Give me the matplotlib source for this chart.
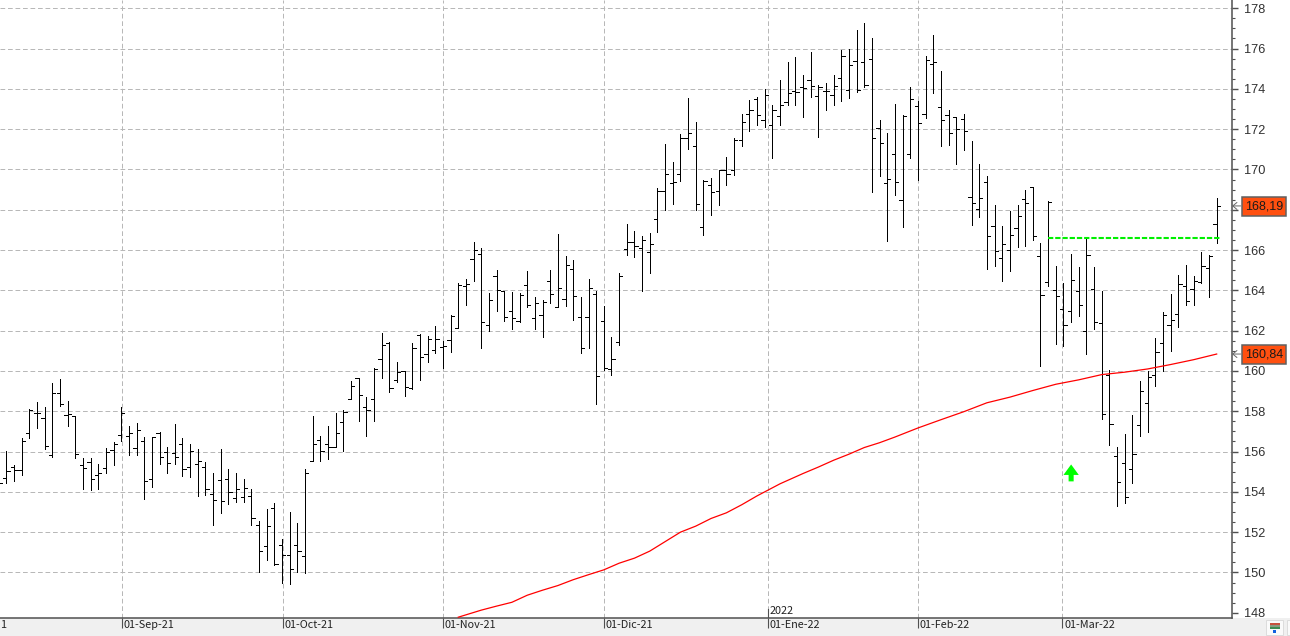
#!/usr/bin/env python
# -*- coding: utf-8 -*-
"""
plot.py - Daily OHLC bars with moving average, breakout level and price tags
"""

import numpy as np
import matplotlib
matplotlib.use("Agg")
import matplotlib.pyplot as plt
import matplotlib.patches as patches

plt.rcParams['font.family'] = ['Liberation Sans', 'DejaVu Sans']
plt.rcParams['lines.scale_dashes'] = False

# Daily bars, first one sits just off the left edge
bar_open = [154.6,
    154.69, 155.22, 155.09, 156.93, 157.92, 157.67, 155.82, 158.91, 157.82, 157.77,
    155.34, 155.49, 154.84, 155.19, 156.08, 156.83, 156.78, 156.18, 156.50, 154.64,
    156.93, 155.98, 155.93, 156.38, 155.24, 155.39, 155.24, 153.90, 154.59, 154.64,
    153.70, 153.75, 153.80, 152.36, 151.32, 153.21, 151.37, 150.88, 151.37, 150.83,
    155.54, 156.59, 156.40, 156.25, 157.49, 158.62, 159.66, 158.23, 158.62, 160.60,
    161.40, 159.56, 159.98, 159.14, 161.76, 160.85, 161.05, 161.20, 161.54, 162.14,
    164.22, 165.55, 165.80, 162.29, 164.71, 163.97, 162.98, 162.49, 164.27, 162.63,
    162.78, 164.47, 163.18, 163.57, 165.06, 162.68, 162.68, 163.82, 162.49, 160.11,
    161.45, 166.07, 166.42, 166.12, 165.92, 167.56, 168.95, 169.35, 169.79, 171.58,
    171.14, 167.16, 169.25, 168.95, 169.99, 169.99, 171.48, 172.77, 173.52, 172.47,
    172.22, 172.67, 173.36, 173.91, 174.11, 174.46, 173.66, 173.91, 173.71, 174.56,
    173.96, 175.40, 175.35, 175.50, 172.07, 169.33, 170.78, 168.49, 170.78, 173.16,
    172.77, 175.25, 173.12, 172.72, 172.62, 172.52, 168.64, 168.04, 169.38, 167.20,
    165.60, 166.00, 167.10, 168.55, 169.11, 165.71, 164.42, 164.03, 163.08, 162.98,
    163.98, 161.99, 164.08, 162.39, 159.80, 155.78, 155.43, 155.13, 157.32, 158.41,
    159.80, 161.39, 162.29, 162.83, 164.22, 164.08, 164.42, 165.12, 167.30]

bar_high = [155.0,
    156.05, 155.31, 156.68, 158.12, 158.48, 158.23, 159.42, 159.62, 158.53, 157.77,
    155.70, 155.70, 155.40, 156.20, 156.48, 158.20, 157.29, 157.44, 156.73, 156.73,
    156.99, 156.25, 157.39, 156.69, 156.40, 156.13, 155.50, 154.96, 156.15, 155.11,
    154.96, 154.66, 154.16, 152.53, 153.17, 153.47, 151.64, 153.02, 152.43, 155.14,
    157.78, 156.76, 157.25, 157.90, 158.08, 159.52, 159.66, 158.72, 160.16, 161.89,
    161.45, 160.46, 159.98, 161.40, 161.84, 161.74, 162.24, 161.50, 162.78, 164.37,
    164.56, 166.40, 166.10, 163.87, 165.01, 163.97, 163.92, 163.87, 164.96, 163.67,
    163.52, 165.01, 166.79, 165.70, 165.50, 163.67, 164.56, 163.97, 163.23, 161.69,
    164.86, 167.31, 166.96, 166.71, 166.86, 169.10, 171.28, 170.39, 171.78, 173.57,
    172.38, 169.50, 169.60, 169.99, 170.64, 171.58, 172.77, 173.47, 173.62, 174.01,
    173.18, 174.46, 175.35, 175.60, 174.71, 175.85, 174.21, 174.31, 174.71, 175.95,
    176.00, 176.91, 177.26, 176.51, 172.47, 171.82, 173.26, 172.72, 174.11, 173.41,
    175.65, 176.66, 174.91, 172.97, 172.62, 172.77, 171.42, 170.28, 169.68, 168.24,
    167.20, 167.96, 168.24, 168.96, 169.11, 166.36, 168.45, 165.22, 164.37, 165.81,
    165.17, 166.56, 165.17, 163.98, 160.05, 156.24, 156.87, 157.82, 159.50, 160.00,
    161.64, 162.93, 163.83, 164.77, 165.27, 164.72, 165.91, 165.76, 168.60]

bar_low = [154.3,
    154.43, 154.56, 154.86, 156.69, 157.19, 156.15, 155.75, 158.25, 157.29, 155.67,
    154.12, 154.07, 154.16, 154.96, 155.31, 156.50, 155.85, 155.85, 153.67, 154.26,
    155.36, 154.96, 155.36, 154.81, 154.76, 153.77, 153.82, 152.38, 152.93, 153.42,
    153.52, 153.52, 152.38, 150.03, 150.64, 150.35, 149.50, 149.45, 150.03, 149.98,
    155.54, 155.54, 155.64, 156.23, 156.03, 158.62, 157.50, 156.76, 157.50, 159.63,
    158.94, 159.43, 158.74, 159.09, 159.53, 160.42, 160.87, 160.13, 160.92, 162.14,
    163.29, 164.48, 161.12, 161.96, 163.00, 162.50, 162.06, 162.45, 163.19, 162.06,
    161.71, 163.39, 163.15, 163.24, 162.55, 160.87, 161.12, 158.34, 160.03, 159.78,
    161.31, 165.74, 165.64, 163.98, 164.84, 166.88, 168.01, 168.27, 169.41, 171.00,
    168.01, 166.73, 167.72, 168.22, 169.21, 169.71, 171.15, 171.90, 172.19, 172.09,
    170.56, 172.19, 173.18, 173.18, 172.58, 173.58, 171.59, 172.93, 173.18, 173.38,
    173.53, 173.83, 174.08, 168.90, 169.70, 166.43, 168.75, 167.16, 170.55, 169.48,
    172.53, 173.78, 171.14, 171.19, 170.25, 170.99, 167.26, 167.66, 165.07, 165.22,
    164.48, 164.97, 166.17, 166.18, 166.48, 160.27, 164.24, 161.36, 161.26, 162.45,
    162.75, 160.86, 162.10, 157.63, 156.34, 153.31, 153.46, 154.45, 156.79, 156.99,
    159.27, 160.00, 161.01, 162.20, 163.25, 163.25, 164.39, 163.69, 166.36]

bar_close = [154.45,
    155.04, 155.09, 156.53, 158.07, 157.92, 156.26, 158.91, 158.36, 157.87, 155.88,
    155.19, 154.64, 154.94, 155.98, 156.38, 157.92, 156.93, 157.07, 154.55, 156.73,
    155.74, 155.44, 155.74, 155.14, 156.03, 155.54, 154.15, 153.60, 153.55, 154.00,
    154.15, 154.20, 152.71, 151.07, 152.31, 150.43, 150.88, 150.18, 151.07, 154.94,
    156.38, 156.05, 156.25, 156.94, 157.98, 159.27, 158.82, 158.08, 160.11, 161.30,
    159.17, 159.96, 159.22, 161.15, 160.70, 161.59, 161.59, 161.25, 162.73, 164.27,
    164.32, 166.00, 162.44, 163.52, 164.02, 162.68, 162.63, 163.77, 163.26, 163.38,
    163.43, 163.82, 164.12, 165.26, 163.72, 161.15, 164.12, 159.76, 160.16, 160.60,
    164.71, 166.42, 166.22, 166.51, 166.32, 168.95, 169.79, 169.40, 171.58, 171.83,
    168.30, 169.45, 168.90, 169.99, 169.79, 171.48, 172.38, 172.97, 172.68, 173.71,
    172.97, 173.21, 173.81, 173.86, 174.06, 174.16, 174.11, 173.91, 174.16, 175.65,
    175.20, 173.96, 174.21, 171.57, 171.32, 169.53, 169.38, 172.67, 173.51, 172.32,
    175.45, 175.35, 172.47, 171.82, 172.02, 171.92, 168.34, 168.59, 166.70, 165.95,
    166.30, 166.75, 167.69, 168.35, 166.71, 163.78, 168.40, 163.73, 162.29, 164.52,
    163.28, 165.76, 162.44, 157.87, 157.37, 154.49, 153.74, 155.88, 159.01, 159.70,
    160.95, 162.78, 162.54, 164.32, 163.48, 164.47, 165.22, 165.71, 168.19]

# Long moving average, ends on the 160,84 tag
ma_index = [59, 62, 64, 66, 68, 70, 72, 74, 76, 78, 80, 82, 84, 86, 88, 90, 92, 94, 96, 98,
            101, 104, 106, 108, 110, 112, 114, 116, 119, 122, 125, 128, 131, 134, 137, 140,
            143, 146, 149, 152, 155, 158]
ma_values = [147.78, 148.13, 148.33, 148.52, 148.87, 149.12, 149.35, 149.64, 149.89, 150.13,
             150.46, 150.71, 151.06, 151.53, 152.00, 152.30, 152.68, 152.96, 153.36, 153.80,
             154.40, 154.91, 155.23, 155.57, 155.87, 156.20, 156.44, 156.72, 157.17, 157.58,
             157.98, 158.42, 158.70, 159.03, 159.34, 159.56, 159.82, 159.94, 160.10,
             160.32, 160.56, 160.84]

# Month starts on the bar axis
month_pos = [15.07, 36.08, 56.97, 77.99, 99.4, 118.96, 137.86]
month_labels = ["01-Sep-21", "01-Oct-21", "01-Nov-21", "01-Dic-21",
                "01-Ene-22", "01-Feb-22", "01-Mar-22"]
price_ticks = list(range(148, 179, 2))

breakout_level = 166.6
breakout_start = 136
breakout_end = 158.4
last_price = 168.19
last_average = 160.84

W, H = 1290, 636
PLOT_W, PLOT_H = 1232, 618
STRIP_FONT = ['Noto Sans CJK KR', 'DejaVu Sans']
GRID = dict(color='#b8b8b8', lw=0.72, dashes=(3.4, 2.0), zorder=1)

fig = plt.figure(figsize=(W / 100, H / 100), dpi=100, facecolor='white')
ax = fig.add_axes([0, (H - PLOT_H) / H, PLOT_W / W, PLOT_H / H])
ax.set_xlim(-0.822, 160.0)
ax.set_ylim(147.74, 178.41)
ax.set_zorder(5)


def px_box(x0, y0, x1, y1, **kw):
    fig.patches.append(patches.Rectangle((x0 / W, 1 - y1 / H), (x1 - x0) / W, (y1 - y0) / H,
                                         transform=fig.transFigure, **kw))


# Grey strip under the chart with the small toolbar icon
px_box(0, PLOT_H, W, H, facecolor='#f0f0f0', edgecolor='none', zorder=0)
px_box(1266, 619.5, 1283, 635, facecolor='#fafafa', edgecolor='#dcdcdc', linewidth=0.7, zorder=1)
px_box(1270, 623, 1280, 625, facecolor='#c8503c', edgecolor='none', zorder=2)
px_box(1270, 625, 1280, 627, facecolor='#8a9a80', edgecolor='none', zorder=2)
px_box(1270, 627, 1280, 629, facecolor='#3c8a50', edgecolor='none', zorder=2)
px_box(1273, 630, 1276, 633, facecolor='#1060e0', edgecolor='none', zorder=2)
px_box(1287, 619.5, 1290, 635, facecolor='#fafafa', edgecolor='#dcdcdc', linewidth=0.7, zorder=1)

# Dashed grid, the bottom price has no line
for p in price_ticks[1:]:
    ax.axhline(p, **GRID)
for p in month_pos:
    ax.axvline(p, **GRID)

# OHLC bars, one pixel wide
idx = np.arange(-1, len(bar_open) - 1)
ax.vlines(idx, bar_low, bar_high, color='black', lw=0.72, antialiased=False, zorder=3)
ax.hlines(bar_open, idx - 0.42, idx, color='black', lw=0.72, antialiased=False, zorder=3)
ax.hlines(bar_close, idx, idx + 0.42, color='black', lw=0.72, antialiased=False, zorder=3)

# Moving average and breakout level
ax.plot(ma_index, ma_values, color='#ff0000', lw=0.9, zorder=4)
ax.plot([breakout_start, breakout_end], [breakout_level, breakout_level],
        color='#00f000', lw=1.5, dashes=(3.8, 1.4), zorder=4)

# Green signal arrow
arrow_x = 139
arrow = patches.Polygon([(arrow_x, 155.36), (arrow_x + 1.0, 154.84), (arrow_x + 0.33, 154.84),
                         (arrow_x + 0.33, 154.52), (arrow_x - 0.33, 154.52), (arrow_x - 0.33, 154.84),
                         (arrow_x - 1.0, 154.84)], facecolor='#00ff00', edgecolor='none', zorder=5)
ax.add_patch(arrow)

# Axis frame
for side in ['top', 'left']:
    ax.spines[side].set_visible(False)
ax.spines['right'].set_color('#505050')
ax.spines['bottom'].set_color('#505050')
ax.spines['right'].set_linewidth(1.1)
ax.spines['bottom'].set_linewidth(1.1)

ax.yaxis.tick_right()
ax.set_yticks(price_ticks)
ax.set_yticklabels([str(p) for p in price_ticks], fontsize=9.2, color='#303030')
ax.set_yticks(np.arange(148, 178.5, 0.5), minor=True)
ax.tick_params(axis='y', which='major', length=4.3, width=1.0, color='#505050', pad=4.5)
ax.tick_params(axis='y', which='minor', length=2.2, width=0.8, color='#505050')

ax.set_xticks(month_pos)
ax.set_xticklabels([])
ax.tick_params(axis='x', which='major', length=7, width=0.8, color='#505050')

# Month labels in the strip, the earlier month only shows its last digit
for p, label in zip(month_pos, month_labels):
    ax.annotate(label, xy=(p, 0), xycoords=('data', 'axes fraction'), xytext=(1.5, -1.6),
                textcoords='offset points', ha='left', va='top', fontsize=7.8,
                family=STRIP_FONT, color='#222222', annotation_clip=False)
ax.annotate("1", xy=(-0.822, 0), xycoords=('data', 'axes fraction'), xytext=(0.3, -1.6),
            textcoords='offset points', ha='left', va='top', fontsize=7.8,
            family=STRIP_FONT, color='#222222', annotation_clip=False)

# Year marker above the January label
ax.annotate("2022", xy=(month_pos[4], 0), xycoords=('data', 'axes fraction'), xytext=(1.5, 1.8),
            textcoords='offset points', ha='left', va='bottom', fontsize=7.8,
            family=STRIP_FONT, color='#222222')
ax.plot([month_pos[4], month_pos[4]], [0, 9 / PLOT_H], color='#505050', lw=0.8,
        transform=ax.get_xaxis_transform(), zorder=5)

# Price tags on the right axis
for value in [last_price, last_average]:
    text = f"{value:.2f}".replace('.', ',')
    ax.annotate(text, xy=(1, value), xycoords=('axes fraction', 'data'), xytext=(23.0, -0.4),
                textcoords='offset points', ha='center', va='center', fontsize=9.0, color='#1a1a1a',
                annotation_clip=False,
                bbox=dict(boxstyle='square,pad=0.26', facecolor='#ff5010', edgecolor='#606060', linewidth=1.1))
    ax.annotate('', xy=(1, value), xycoords=('axes fraction', 'data'), xytext=(6.2, 0),
                textcoords='offset points', annotation_clip=False,
                arrowprops=dict(arrowstyle='->,head_length=0.3,head_width=0.25', lw=0.7, color='#666666',
                                shrinkA=0, shrinkB=0))

fig.savefig("out.png", dpi=100)
plt.close(fig)
